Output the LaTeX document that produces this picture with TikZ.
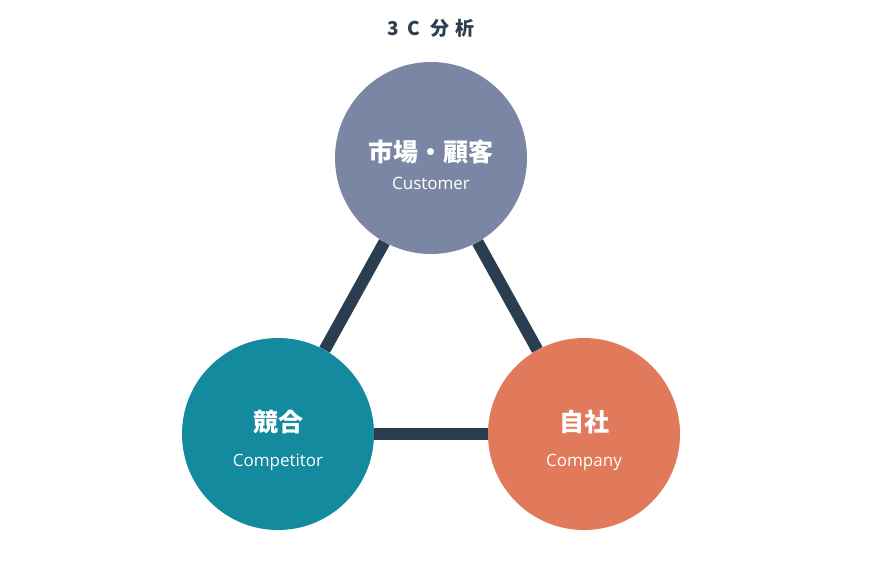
\documentclass[tikz,border=0pt]{standalone}
\usepackage{fontspec}
\setmainfont{Open Sans}
\newfontfamily\cjk{Noto Sans CJK JP}
\definecolor{navy}{HTML}{2B3E50}
\definecolor{cust}{HTML}{7A86A3}
\definecolor{comp}{HTML}{138A9E}
\definecolor{own}{HTML}{E07A5A}
\begin{document}
\begin{tikzpicture}[x=1pt,y=-1pt,
  circ/.style={circle,minimum size=192pt,inner sep=0pt},
  jp/.style={text=white,font=\cjk\fontsize{25}{30}\selectfont\bfseries},
  en/.style={text=white,font=\fontsize{17}{20}\selectfont},
  link/.style={navy,line width=12pt}]
\useasboundingbox[fill=white] (0,0) rectangle (869,573);
\node[circ,fill=cust] (c) at (431,158) {};
\node[circ,fill=comp] (k) at (278,434) {};
\node[circ,fill=own] (j) at (584,434) {};
\node[jp] (c1) at (431,152) {市場・顧客};
\node[en] (c2) at (431,183) {Customer};
\node[jp] (k1) at (278,422) {競合};
\node[en] (k2) at (278,462) {Competitor};
\node[jp] (j1) at (584,422) {自社};
\node[en] (j2) at (584,462) {Company};
\node[text=navy] (t) at (431,28) {\cjk\fontsize{19}{22}\selectfont\bfseries 3\hspace{8pt}C\hspace{10pt}分\hspace{6pt}析};
\draw[link] (c) -- (k);
\draw[link] (c) -- (j);
\draw[link] (k) -- (j);
\end{tikzpicture}
\end{document}
